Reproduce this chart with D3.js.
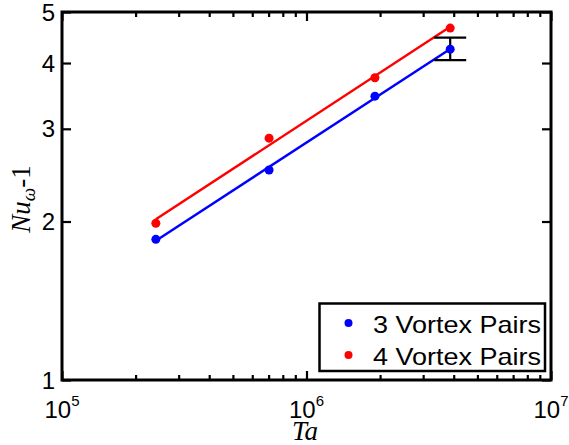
<!DOCTYPE html>
<html><head><meta charset="utf-8">
<script src="https://cdn.jsdelivr.net/npm/d3@7"></script>
<style>body{margin:0;background:#fff}svg{display:block}</style>
</head><body>
<svg id="c" width="569" height="445"></svg>
<script>
const ta = [2.42e5, 7.03e5, 1.905e6, 3.87e6];
const nu3 = [1.85, 2.505, 3.46, 4.25];
const nu4 = [1.985, 2.88, 3.75, 4.66];
const errLow = [null, null, null, 4.05];
const errHigh = [null, null, null, 4.47];
const seriesNames = ["3 Vortex Pairs", "4 Vortex Pairs"];
const seriesColors = ["#0000ff", "#ff0000"];
const yTicks = [1, 2, 3, 4, 5];
const xMajor = [1e5, 1e6, 1e7];
const xExp = ["5", "6", "7"];

const svg = d3.select("#c");
const L = 62, R = 551, T = 12, B = 380;
const x = d3.scaleLog().domain([1e5, 1e7]).range([L, R]);
const y = d3.scaleLog().domain([1, 5]).range([B, T]);
const font = "'Liberation Sans', Arial, Helvetica, sans-serif";

// minor x ticks
const xMinor = [];
for (let e = 5; e < 7; e++) for (let m = 2; m <= 9; m++) xMinor.push(m * Math.pow(10, e));

const axes = svg.append("g");
const gb = axes.append("g").attr("transform", `translate(0,${B})`)
  .call(d3.axisBottom(x).tickValues(xMinor).tickSize(-5).tickFormat(""));
const gbM = axes.append("g").attr("transform", `translate(0,${B})`)
  .call(d3.axisBottom(x).tickValues(xMajor).tickSize(-9).tickFormat(""));
const gt = axes.append("g").attr("transform", `translate(0,${T})`)
  .call(d3.axisTop(x).tickValues(xMinor).tickSize(-5).tickFormat(""));
const gtM = axes.append("g").attr("transform", `translate(0,${T})`)
  .call(d3.axisTop(x).tickValues(xMajor).tickSize(-9).tickFormat(""));
const gl = axes.append("g").attr("transform", `translate(${L},0)`)
  .call(d3.axisLeft(y).tickValues(yTicks).tickSize(-9).tickFormat(""));
const gr = axes.append("g").attr("transform", `translate(${R},0)`)
  .call(d3.axisRight(y).tickValues(yTicks).tickSize(-9).tickFormat(""));
[gb, gbM, gt, gtM, gl, gr].forEach(g => {
  g.select(".domain").remove();
  g.selectAll(".tick line").attr("stroke", "#000").attr("stroke-width", 2.2);
});
axes.append("rect").attr("x", L).attr("y", T).attr("width", R - L).attr("height", B - T)
  .attr("fill", "none").attr("stroke", "#000").attr("stroke-width", 3);

// y tick labels
svg.append("g").selectAll("text").data(yTicks).join("text")
  .attr("x", 55).attr("y", d => y(d)).attr("dy", "0.36em")
  .attr("text-anchor", "end").attr("font-family", font).attr("font-size", 24)
  .text(d => d);

// x tick labels
const xl = svg.append("g").selectAll("text").data(xMajor).join("text")
  .attr("x", d => x(d)).attr("y", 417.5).attr("text-anchor", "middle")
  .attr("font-family", font).attr("font-size", 24);
xl.append("tspan").text("10");
xl.append("tspan").attr("dy", -12).attr("font-size", 15).text((d, i) => xExp[i]);

// axis titles
svg.append("text").attr("x", 305).attr("y", 440).attr("text-anchor", "middle")
  .attr("font-family", "'Liberation Serif', 'Times New Roman', serif").attr("font-style", "italic")
  .attr("font-size", 27).text("Ta");
const yl = svg.append("text").attr("transform", "translate(30,199) rotate(-90)")
  .attr("text-anchor", "middle")
  .attr("font-family", "'Liberation Serif', 'Times New Roman', serif").attr("font-size", 27);
yl.append("tspan").attr("font-style", "italic").text("Nu");
yl.append("tspan").attr("font-style", "italic").attr("font-size", 19).attr("dy", 5).text("ω");
yl.append("tspan").attr("dy", -5).text("-1");

// fits and points
const seriesVals = [nu3, nu4];
const plot = svg.append("g");
seriesVals.forEach((vals, si) => {
  const lx = ta.map(Math.log10), ly = vals.map(Math.log10);
  const mx = d3.mean(lx), my = d3.mean(ly);
  const slope = d3.sum(lx.map((v, i) => (v - mx) * (ly[i] - my))) / d3.sum(lx.map(v => (v - mx) ** 2));
  const fit = v => Math.pow(10, my + slope * (Math.log10(v) - mx));
  const ends = [ta[0], ta[ta.length - 1]];
  plot.append("path")
    .attr("d", d3.line().x(d => x(d)).y(d => y(fit(d)))(ends))
    .attr("stroke", seriesColors[si]).attr("stroke-width", 2.4).attr("fill", "none");
});
// error bar
const eb = plot.append("g");
ta.forEach((t, i) => {
  if (errLow[i] == null) return;
  const cx = x(t);
  eb.append("line").attr("x1", cx).attr("x2", cx).attr("y1", y(errLow[i])).attr("y2", y(errHigh[i]))
    .attr("stroke", "#000").attr("stroke-width", 2.2);
  [errLow[i], errHigh[i]].forEach(v => eb.append("line").attr("x1", cx - 16).attr("x2", cx + 16)
    .attr("y1", y(v)).attr("y2", y(v)).attr("stroke", "#000").attr("stroke-width", 2.2));
});
seriesVals.forEach((vals, si) => {
  plot.append("g").selectAll("circle").data(vals).join("circle")
    .attr("cx", (d, i) => x(ta[i])).attr("cy", d => y(d)).attr("r", 4.5)
    .attr("fill", seriesColors[si]);
});

// legend
const lg = svg.append("g");
lg.append("rect").attr("x", 319.5).attr("y", 303.5).attr("width", 225.5).attr("height", 67.5)
  .attr("fill", "#fff").attr("stroke", "#000").attr("stroke-width", 2.5);
seriesNames.forEach((n, i) => {
  const yy = 323 + i * 32;
  lg.append("circle").attr("cx", 348.5).attr("cy", yy).attr("r", 4).attr("fill", seriesColors[i]);
  lg.append("text").attr("x", 373).attr("y", yy + 9.5).attr("font-family", font).attr("font-size", 24)
    .attr("textLength", 168).attr("lengthAdjust", "spacingAndGlyphs").text(n);
});
</script>
</body></html>
